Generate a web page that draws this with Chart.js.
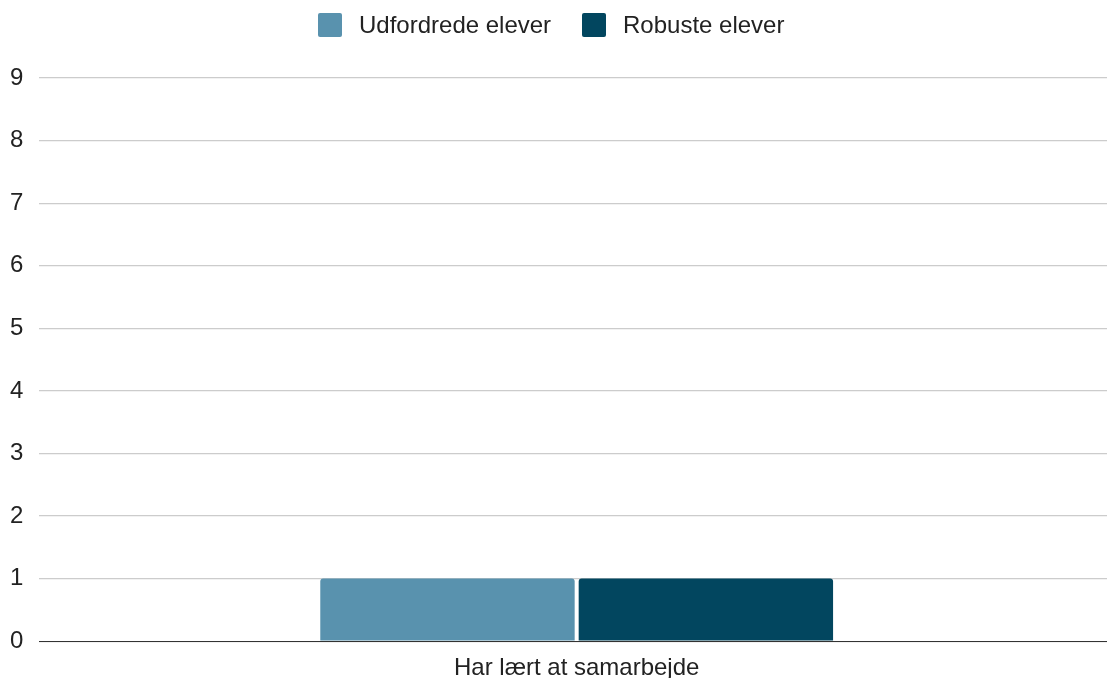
<!DOCTYPE html>
<html><head><meta charset="utf-8">
<script src="https://cdn.jsdelivr.net/npm/chart.js@4/dist/chart.umd.min.js"></script>
<style>
html,body{margin:0;padding:0;background:#fff;overflow:hidden;}
#outer{width:1107px;height:678px;position:relative;overflow:hidden;}
#wrap{width:1114px;height:678px;position:absolute;left:0;top:0;}
#legend{position:absolute;left:0;top:0;width:1107px;height:50px;font-family:'Liberation Sans',Arial,sans-serif;font-size:24px;color:#222;}
.item{position:absolute;top:13px;height:24px;display:flex;align-items:center;white-space:nowrap;}
.box{width:24px;height:24px;border-radius:2px;margin-right:17px;flex:none;}
</style>
</head><body><div id="outer"><div id="wrap"><canvas id="c"></canvas></div><div id="legend"></div></div>
<script>
const categories = ["Har lært at samarbejde"];
const seriesNames = ["Udfordrede elever", "Robuste elever"];
const udfordrede = [1];
const robuste = [1];
const seriesColors = ["#5992ae", "#02465f"];
const yMin = 0, yMax = 9, yStep = 1;

const legendLeft = [318, 582];
const lg = document.getElementById('legend');
seriesNames.forEach((n, i) => {
  const it = document.createElement('div');
  it.className = 'item';
  it.style.left = legendLeft[i] + 'px';
  const b = document.createElement('span');
  b.className = 'box';
  b.style.background = seriesColors[i];
  const t = document.createElement('span');
  t.textContent = n;
  it.appendChild(b); it.appendChild(t);
  lg.appendChild(it);
});

const FONT = "'Liberation Sans', Arial, sans-serif";
new Chart(document.getElementById('c'), {
  type: 'bar',
  data: {
    labels: categories,
    datasets: [
      {label: seriesNames[0], data: udfordrede, backgroundColor: seriesColors[0], borderRadius: {topLeft:3, topRight:3}, borderSkipped: 'bottom'},
      {label: seriesNames[1], data: robuste, backgroundColor: seriesColors[1], borderRadius: {topLeft:3, topRight:3}, borderSkipped: 'bottom'}
    ]
  },
  options: {
    responsive: true, maintainAspectRatio: false, animation: false,
    layout: {padding: {left: -6, right: 0, top: 78, bottom: -18}},
    datasets: {bar: {categoryPercentage: 0.4809, barPercentage: 0.9845}},
    plugins: {
      legend: {display: false},
      tooltip: {enabled: false}
    },
    scales: {
      x: {
        grid: {display: false, drawTicks: false},
        border: {color: '#333', width: 1},
        ticks: {font: {family: FONT, size: 24}, color: '#222', padding: 13}
      },
      y: {
        min: yMin, max: yMax,
        grid: {color: '#cccccc', lineWidth: 1.2, drawTicks: false},
        border: {display: false},
        ticks: {stepSize: yStep, font: {family: FONT, size: 24}, color: '#222', padding: 16}
      }
    }
  }
});
</script></body></html>
